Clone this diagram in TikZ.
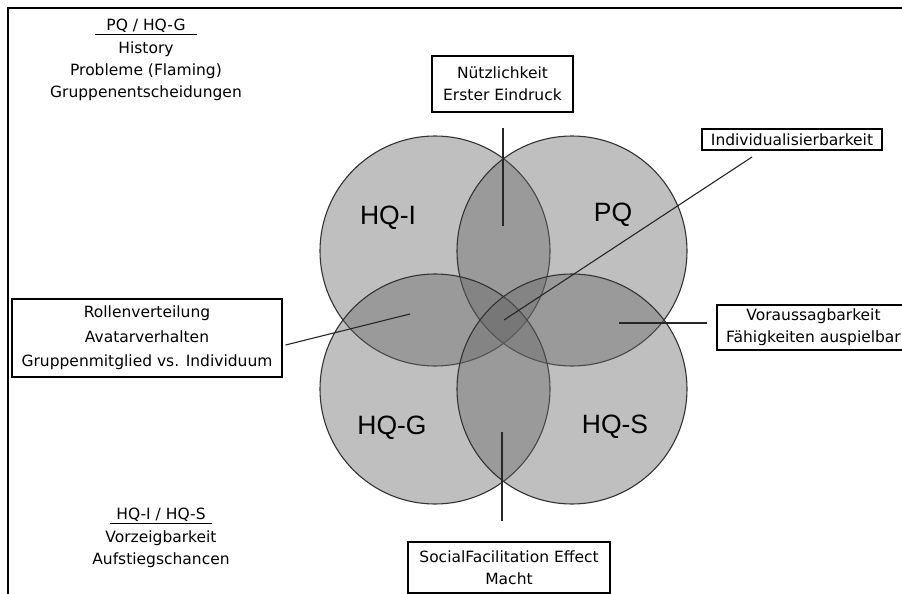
\documentclass[tikz,border=0pt]{standalone}
\usepackage{fontspec}
\setmainfont{DejaVu Sans}
\newfontfamily\kreisfont{Liberation Sans}
\usepackage{tikz}
\usetikzlibrary{positioning}

\tikzset{
  kreis/.style={draw=black!80, line width=1.1pt, fill=black!60, fill opacity=0.42},
  kreistext/.style={font=\kreisfont\fontsize{26.5}{30}\selectfont},
  kasten/.style={draw, line width=1.1pt, align=center, inner sep=0pt,
    font=\fontsize{15.5}{22.2}\selectfont},
  block/.style={align=center, inner sep=0pt, font=\fontsize{15.5}{22.2}\selectfont},
  linie/.style={line width=1.1pt, draw=black!85}
}

\begin{document}
\begin{tikzpicture}[x=1pt, y=-1pt]
     \useasboundingbox (0,0) rectangle (902,594);
     \clip (0,0) rectangle (902,594);
     \draw[line width=1.2pt] (8,594) -- (8,8) -- (902,8);

     \draw[kreis] (435,251) circle[radius=115pt];
     \draw[kreis] (572,251) circle[radius=115pt];
     \draw[kreis] (435,389) circle[radius=115pt];
     \draw[kreis] (572,389) circle[radius=115pt];

     \node[kreistext] (hqi) at (388,218) {HQ-I};
     \node[kreistext] (pq) at (613,215) {PQ};
     \node[kreistext] (hqg) at (392,428) {HQ-G};
     \node[kreistext] (hqs) at (615,427) {HQ-S};

     \node[block] (pqhqg) at (146,60)
       {\underline{\makebox[102pt]{PQ / HQ-G}}\\History\\Probleme (Flaming)\\Gruppenentscheidungen};
     \node[block] (hqihqs) at (161,538)
       {\underline{\makebox[102pt]{HQ-I / HQ-S}}\\Vorzeigbarkeit\\Aufstiegschancen};

     \node[kasten, minimum width=141pt, minimum height=56pt] (nutz) at (502.5,84)
       {Nützlichkeit\\Erster Eindruck};
     \node[kasten, minimum width=180pt, minimum height=21pt] (indiv) at (792,139.5)
       {Individualisierbarkeit};
     \node[kasten, minimum width=270pt, minimum height=78pt] (rollen) at (147,338)
       {Rollenverteilung\\[2.5pt]Avatarverhalten\\[2.5pt]Gruppenmitglied vs. Individuum};
     \node[kasten, minimum width=193pt, minimum height=45pt] (vorauss) at (813.5,327.5)
       {Voraussagbarkeit\\Fähigkeiten auspielbar};
     \node[kasten, minimum width=202pt, minimum height=51pt] (social) at (509,567.5)
       {SocialFacilitation Effect\\Macht};

     \coordinate (n1) at (503,226);
     \coordinate (i1) at (504,320);
     \coordinate (i2) at (752,157);
     \coordinate (r1) at (410,314);
     \coordinate (r2) at ([xshift=3pt,yshift=-7pt]rollen.east);
     \coordinate (v1) at (619,323);
     \coordinate (s1) at (502,432);

     \draw[linie, shorten >=15pt] (n1) -- (n1 |- nutz.south);
     \draw[linie] (i1) -- (i2);
     \draw[linie] (r1) -- (r2);
     \draw[linie, shorten >=9pt] (v1) -- (v1 -| vorauss.west);
     \draw[linie, shorten >=20pt] (s1) -- (s1 |- social.north);
\end{tikzpicture}
\end{document}
